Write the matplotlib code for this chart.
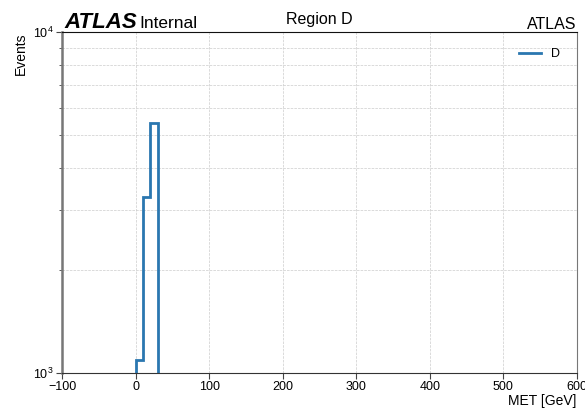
import numpy as np
import matplotlib
matplotlib.use("Agg")
import matplotlib.pyplot as plt
from matplotlib.ticker import LogLocator, NullFormatter, MultipleLocator

plt.rcParams['font.family'] = ['Liberation Sans', 'DejaVu Sans']

# MET histogram, region D
bin_edges = [0, 10, 20, 30]
counts = [1090, 3290, 5420]
series_label = "D"

fig = plt.figure(figsize=(5.85, 4.11), dpi=100)
ax = fig.add_axes([0.106, 0.093, 0.880, 0.829])

ax.stairs(counts, bin_edges, baseline=1000, color="#2a77b0", lw=2.0, label=series_label)

ax.set_yscale("log")
ax.set_xlim(-100, 600)
ax.set_ylim(1e3, 1e4)
ax.xaxis.set_major_locator(MultipleLocator(100))
ax.yaxis.set_major_locator(LogLocator(base=10, numticks=5))
ax.yaxis.set_minor_locator(LogLocator(base=10, subs=np.arange(2, 10), numticks=12))
ax.yaxis.set_minor_formatter(NullFormatter())

ax.grid(True, which="major", axis="x", ls="--", lw=0.5, color="#cccccc")
ax.grid(True, which="both", axis="y", ls="--", lw=0.5, color="#cccccc")
ax.set_axisbelow(True)

ax.tick_params(axis="both", which="major", labelsize=9, length=4, direction="out",
               color="#444444", pad=2)
ax.tick_params(axis="y", which="minor", length=2.5, direction="out", color="#444444")
ax.spines["left"].set_color("#777777")
ax.spines["left"].set_linewidth(1.8)
ax.spines["right"].set_color("#777777")
ax.spines["bottom"].set_color("#333333")
ax.spines["top"].set_color("#111111")

ax.set_xlabel("MET [GeV]", fontsize=10, loc="right", labelpad=1)
ax.set_ylabel("Events", fontsize=10, loc="top", labelpad=4)

ax.set_title("Region D", fontsize=11.5, pad=6)
fig.text(0.111, 0.933, "ATLAS", fontsize=16, fontweight="bold", style="italic")
fig.text(0.238, 0.933, "Internal", fontsize=12.5)
fig.text(0.985, 0.93, "ATLAS", fontsize=11.5, ha="right")

ax.legend(loc="upper right", frameon=False, fontsize=9, handlelength=1.8,
          bbox_to_anchor=(0.99, 0.985))

fig.savefig("out.png", dpi=100)
